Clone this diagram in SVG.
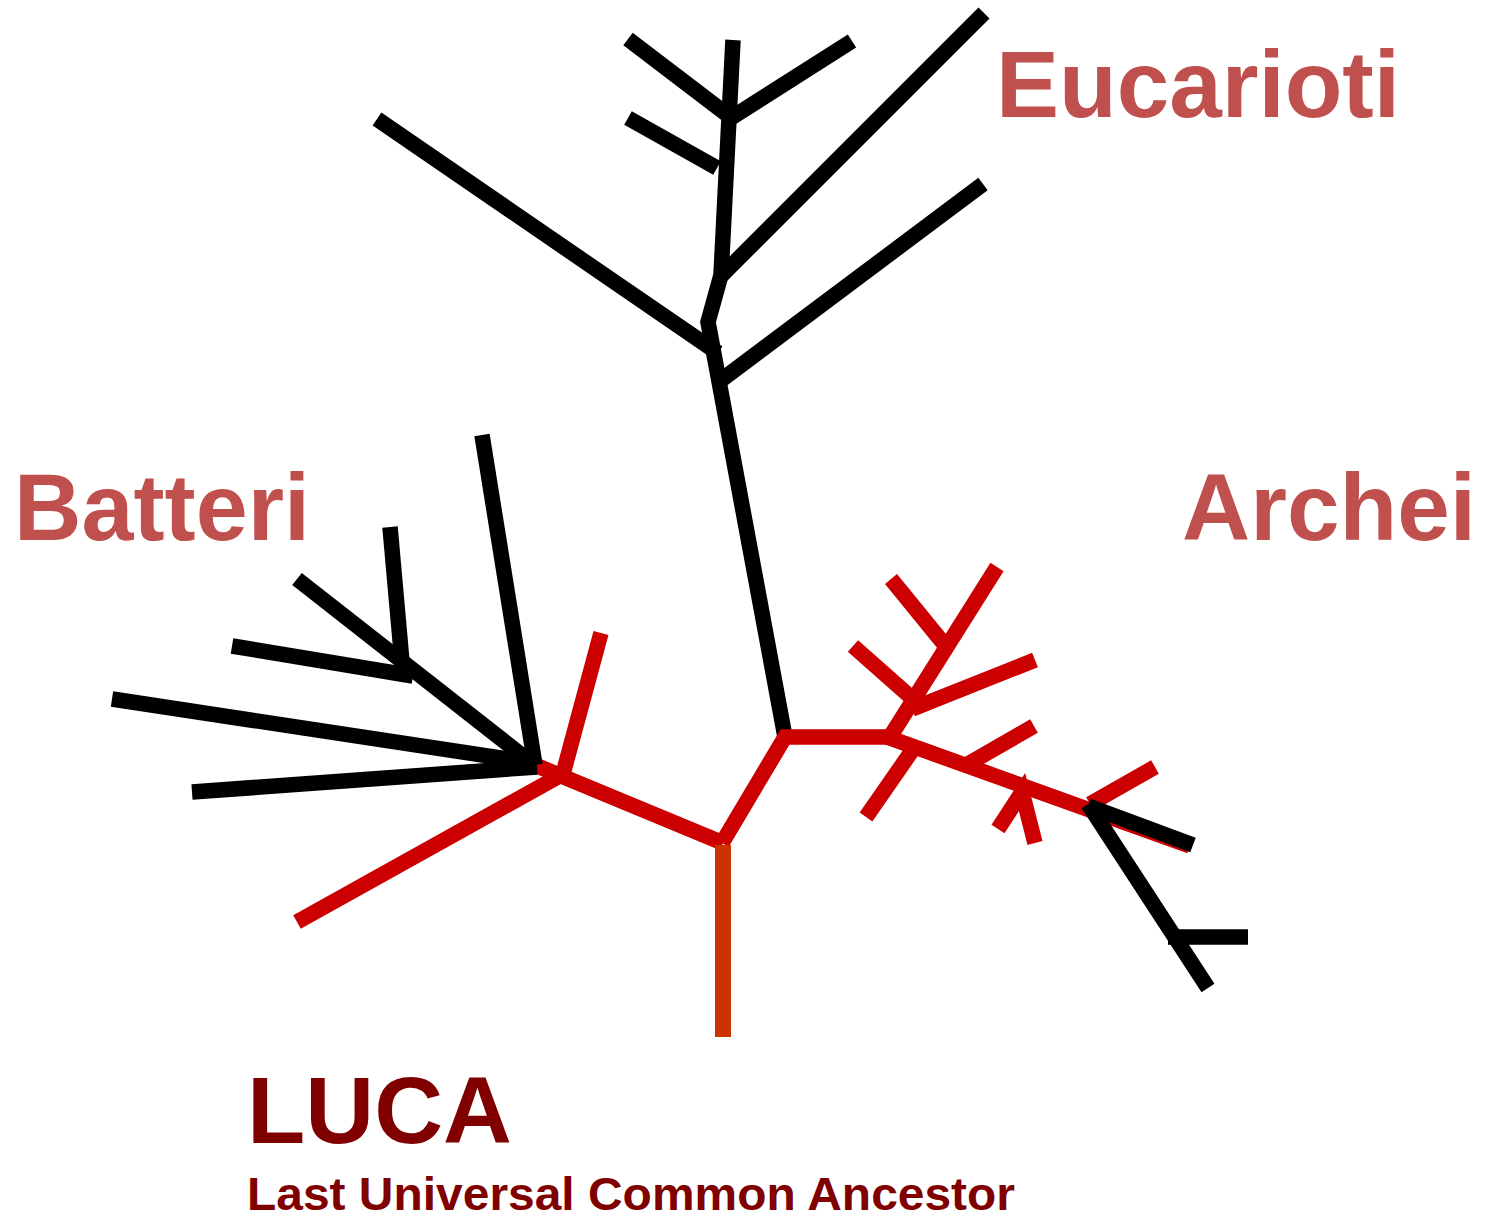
<svg xmlns="http://www.w3.org/2000/svg" width="1491" height="1220" viewBox="0 0 1491 1220">
<style>
.k{stroke:#000;stroke-width:15.5;fill:none;stroke-linecap:butt}
.r{stroke:#CC0000;stroke-width:15.5;fill:none;stroke-linecap:butt}
.o{stroke:#CC3300;stroke-width:16;fill:none}
.lbl{font-family:"Liberation Sans",Arial,sans-serif;font-weight:bold;fill:#C0504D;font-size:95px}
.luca{font-family:"Liberation Sans",Arial,sans-serif;font-weight:bold;fill:#800000}
</style>
<rect width="1491" height="1220" fill="#fff"/>
<g id="tree">
<g id="eukarya">
<polyline class="k" points="785,737 708,322 721,275 733,40"/>
<line class="k" x1="377" y1="119" x2="718" y2="353"/>
<line class="k" x1="720" y1="381" x2="983" y2="184"/>
<line class="k" x1="721" y1="276" x2="984" y2="13"/>
<line class="k" x1="717" y1="168" x2="628" y2="118"/>
<line class="k" x1="729" y1="116" x2="628" y2="39"/>
<line class="k" x1="731" y1="118" x2="852" y2="41"/>
</g>
<g id="bacteria">
<line class="r" x1="723" y1="843" x2="535" y2="765"/>
<line class="r" x1="563" y1="774" x2="297" y2="922"/>
<line class="r" x1="563" y1="774" x2="601" y2="633"/>
<line class="k" x1="535" y1="765" x2="482" y2="435"/>
<line class="k" x1="535" y1="763" x2="112" y2="699"/>
<line class="k" x1="537" y1="767" x2="192" y2="792"/>
<line class="k" x1="533" y1="764" x2="297" y2="579"/>
<line class="k" x1="413" y1="676" x2="232" y2="646"/>
<line class="k" x1="402" y1="662" x2="390" y2="527"/>
</g>
<g id="archaea">
<polyline class="r" points="722,843 785,737 890,737"/>
<line class="r" x1="887" y1="737" x2="1190" y2="846"/>
<line class="r" x1="890" y1="737" x2="997" y2="567"/>
<line class="r" x1="912" y1="709" x2="1035" y2="660"/>
<line class="r" x1="914" y1="700" x2="853" y2="646"/>
<line class="r" x1="944" y1="644" x2="891" y2="579"/>
<line class="r" x1="916" y1="745" x2="866" y2="817"/>
<line class="r" x1="968" y1="764" x2="1034" y2="726"/>
<polyline class="r" points="998,829 1022,792 1035,843"/>
<line class="r" x1="1090" y1="804" x2="1155" y2="767"/>
<line class="k" x1="1088" y1="804" x2="1208" y2="988"/>
<line class="k" x1="1088" y1="806" x2="1193" y2="845"/>
<line class="k" x1="1168" y1="937" x2="1248" y2="937"/>
</g>
<g id="luca-root">
<line class="o" x1="723" y1="845" x2="723" y2="1037"/>
</g>
</g>
<g id="labels">
<text class="lbl" x="996" y="117" textLength="404" lengthAdjust="spacingAndGlyphs">Eucarioti</text>
<text class="lbl" x="14" y="540" textLength="296" lengthAdjust="spacingAndGlyphs">Batteri</text>
<text class="lbl" x="1182" y="540" textLength="294" lengthAdjust="spacingAndGlyphs">Archei</text>
<text class="luca" x="247" y="1143" font-size="95" textLength="265" lengthAdjust="spacingAndGlyphs">LUCA</text>
<text class="luca" x="247" y="1210" font-size="47" textLength="768" lengthAdjust="spacingAndGlyphs">Last Universal Common Ancestor</text>
</g>
</svg>
